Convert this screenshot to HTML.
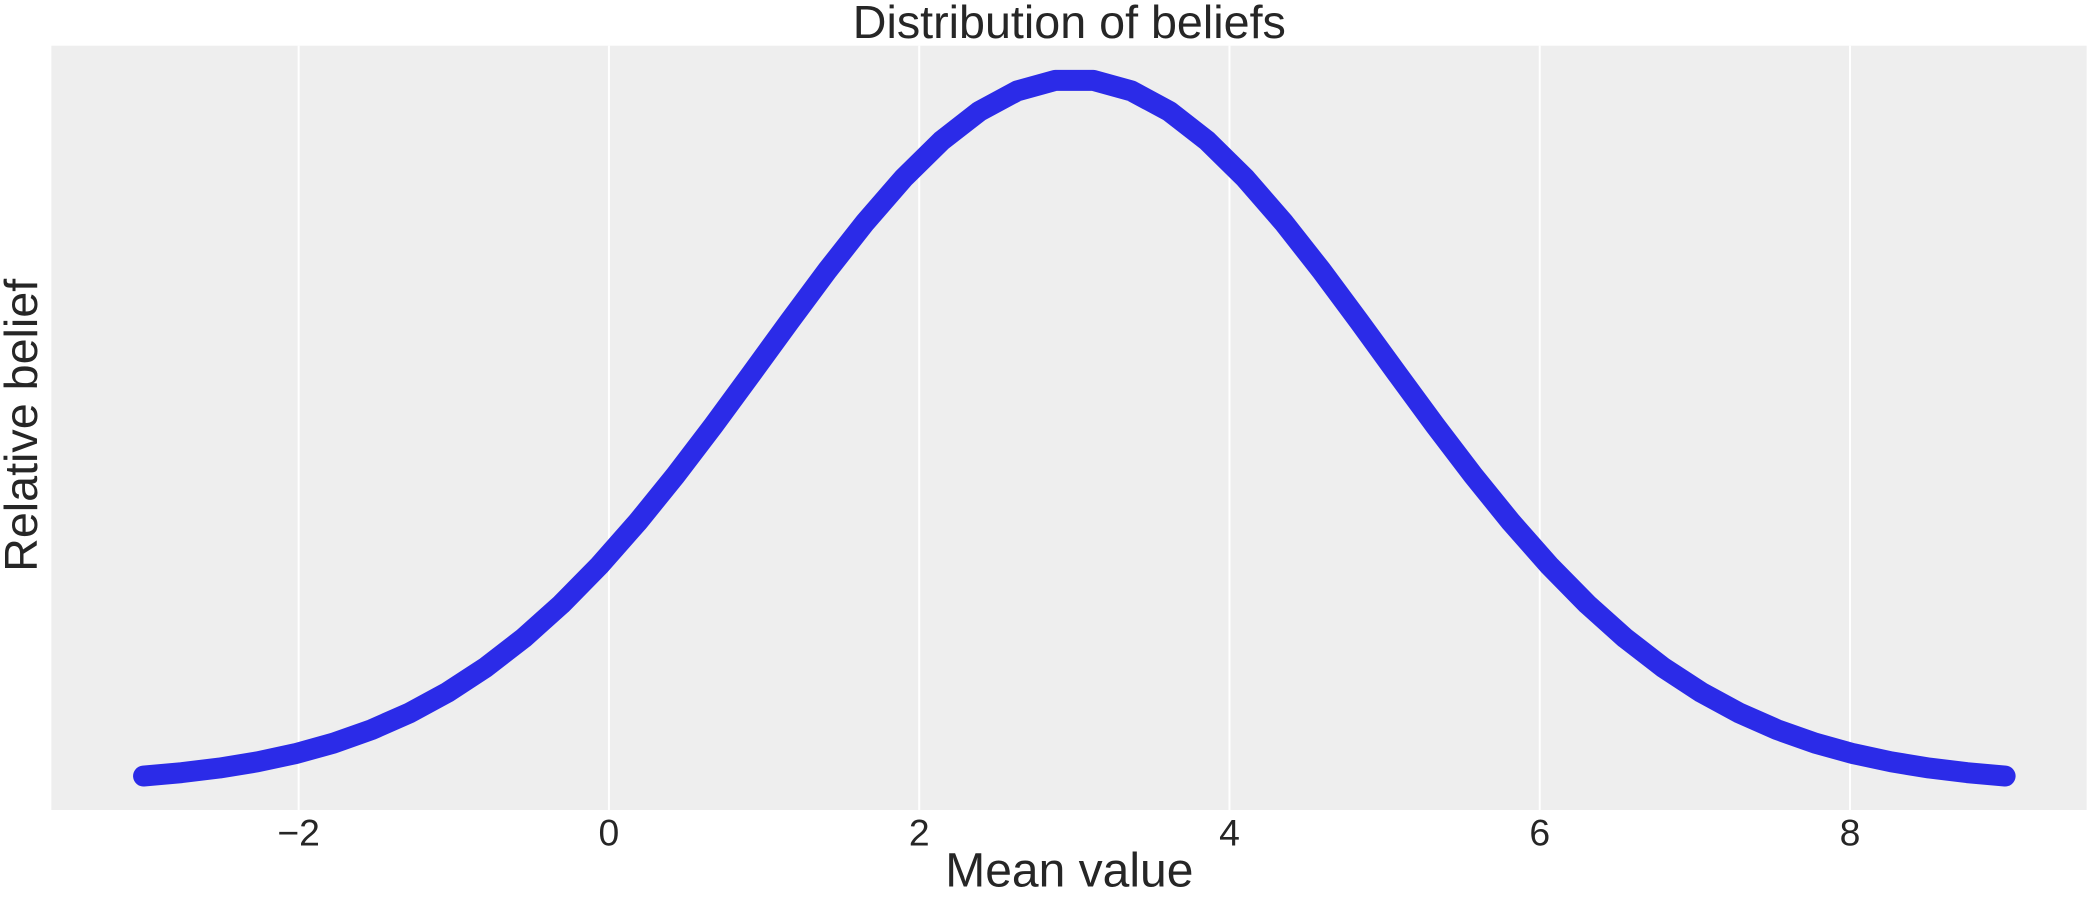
<!DOCTYPE html>
<html><head><meta charset="utf-8"><style>
html,body{margin:0;padding:0;background:#fff;overflow:hidden;}
svg text{font-family:"Liberation Sans","DejaVu Sans",sans-serif;fill:#262626;}
</style></head><body>
<svg width="2100" height="900" viewBox="0 0 1575 675">
<rect x="38.5" y="34.3" width="1526.5" height="573.2" fill="#eeeeee"/>
<g id="grid"></g>
<g id="ticks"></g>
<path id="curve" fill="none" stroke="#2b2be8" stroke-width="15.7" stroke-linecap="round" stroke-linejoin="round"/>
<text x="802" y="28.5" font-size="35" text-anchor="middle">Distribution of beliefs</text>
<text x="802" y="665" font-size="36" text-anchor="middle">Mean value</text>
<text x="0" y="0" font-size="35" text-anchor="middle" transform="translate(27.7,319) rotate(-90)">Relative belief</text>
</svg>
<script>
const xStart = -3, xEnd = 9;
const halfValues = [0.01111,0.01592,0.02248,0.03127,0.04284,0.05781,0.07686,0.10067,0.12989,0.16513,0.20675,0.25504,0.30994,0.37103,0.43757,0.50834,0.58184,0.65594,0.72855,0.79709,0.85916,0.91228,0.95423,0.98327,0.99813];
const beliefValues = halfValues.concat(halfValues.slice().reverse());
const xTicks = [-2,0,2,4,6,8];
const xTickLabels = ["\u22122","0","2","4","6","8"];
function xScale(v){return 456.7 + v*116.35;}
function yScale(v){return 587.9 - v*528.6;}
const NS="http://www.w3.org/2000/svg";
const grid=document.getElementById('grid'), ticks=document.getElementById('ticks');
xTicks.forEach((t,i)=>{
  const l=document.createElementNS(NS,'line');
  l.setAttribute('x1',xScale(t));l.setAttribute('x2',xScale(t));
  l.setAttribute('y1',34.3);l.setAttribute('y2',607.5);
  l.setAttribute('stroke','#ffffff');l.setAttribute('stroke-width','1.5');
  
  
  grid.appendChild(l);
  const tx=document.createElementNS(NS,'text');
  tx.setAttribute('x',xScale(t));tx.setAttribute('y',634);
  tx.setAttribute('font-size','28');tx.setAttribute('text-anchor','middle');
  tx.textContent=xTickLabels[i];
  
  
  ticks.appendChild(tx);
});
const n=beliefValues.length;
let d='';
beliefValues.forEach((v,i)=>{
  const x=xStart+(xEnd-xStart)*i/(n-1);
  d+=(i?'L':'M')+xScale(x).toFixed(2)+' '+yScale(v).toFixed(2);
});
document.getElementById('curve').setAttribute('d',d);
</script>
</body></html>
